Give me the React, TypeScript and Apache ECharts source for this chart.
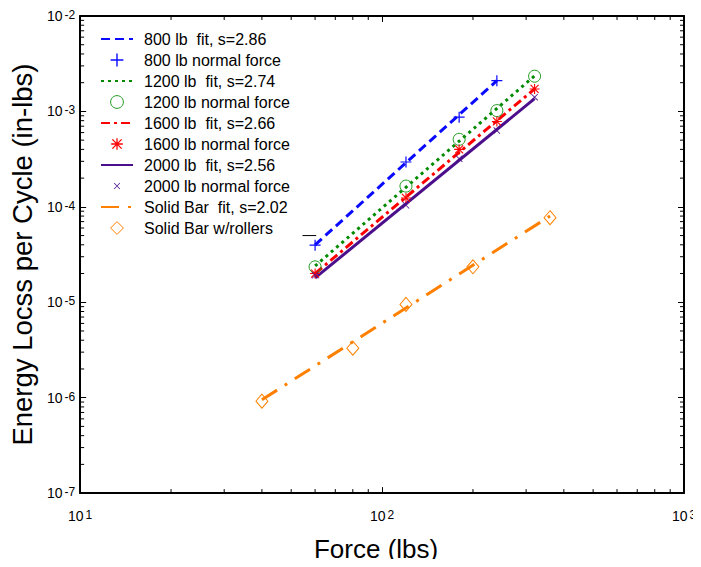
import React, { useEffect, useRef } from "react";
import * as echarts from "echarts";

// ---- data ----
const forces = [60, 120, 180, 240, 320];
const forces800 = [60, 120, 180, 240];
const loss800 = [3.96e-5, 2.95e-4, 8.7e-4, 2.1e-3];
const loss1200 = [2.35e-5, 1.65e-4, 5.1e-4, 1.02e-3, 2.34e-3];
const loss1600 = [2.0e-5, 1.24e-4, 4.0e-4, 7.85e-4, 1.72e-3];
const loss2000 = [1.92e-5, 1.04e-4, 3.2e-4, 6.3e-4, 1.41e-3];
const barForces = [40, 80, 120, 200, 360];
const barLoss = [9.2e-7, 3.3e-6, 9.5e-6, 2.35e-5, 7.7e-5];

// fit line end points
const fit800X = [60, 240];
const fit800Y = [4.0e-5, 2.1e-3];
const fitX = [60, 320];
const fit1200Y = [2.4e-5, 2.36e-3];
const fit1600Y = [2.0e-5, 1.72e-3];
const fit2000Y = [1.8e-5, 1.36e-3];
const fitBarX = [40, 360];
const fitBarY = [9.5e-7, 8.0e-5];
const strayX = [54.5, 60.5];
const strayY = [5e-5, 5e-5];

const names = [
  "800 lb  fit, s=2.86",
  "800 lb normal force",
  "1200 lb  fit, s=2.74",
  "1200 lb normal force",
  "1600 lb  fit, s=2.66",
  "1600 lb normal force",
  "2000 lb  fit, s=2.56",
  "2000 lb normal force",
  "Solid Bar  fit, s=2.02",
  "Solid Bar w/rollers",
];

// axis ranges and tick multipliers
const xMin = 10;
const xMax = 1000;
const yMin = 1e-7;
const yMax = 1e-2;
const minorMult = [2, 3, 4, 5, 6, 7, 8, 9];
const xDecades = [10, 100];
const yDecades = [1e-7, 1e-6, 1e-5, 1e-4, 1e-3];

const FONT = "Liberation Sans, Arial, sans-serif";
const BLUE = "#0a0aff";
const GREEN = "#008a00";
const GREEN_M = "#1f9a1f";
const RED = "#ff0000";
const PURPLE = "#4b0f8c";
const ORANGE = "#ff8000";

const PLUS = "path://M0,4.45H10V5.55H0Z M4.45,0H5.55V10H4.45Z";
const STAR =
  "path://M-0.5,-0.5L-0.5,-0.5Z M10.5,10.5L10.5,10.5Z M0,4.45H10V5.55H0Z M4.45,0H5.55V10H4.45Z M0.6,1.4L1.4,0.6L9.4,8.6L8.6,9.4Z M8.6,0.6L9.4,1.4L1.4,9.4L0.6,8.6Z";
// cross with invisible padding so that the legend icon stays small
const CROSS =
  "path://M-5,-5L-5,-5Z M15,15L15,15Z M0,0.8L0.8,0L10,9.2L9.2,10Z M9.2,0L10,0.8L0.8,10L0,9.2Z";

const zip = (xs: number[], ys: number[]) => xs.map((x, i) => [x, ys[i]]);

const labelFmt = (v: number) => {
  const e = Math.round(Math.log10(v));
  return `{b|10}{s|${e}}`;
};
const rich = {
  b: { fontSize: 14, lineHeight: 14, fontFamily: FONT, color: "#000", verticalAlign: "bottom" },
  s: { fontSize: 12, lineHeight: 12, fontFamily: FONT, color: "#000", verticalAlign: "top", padding: [0, 0, 10, 2] },
};

export default function App() {
  const ref = useRef<HTMLDivElement>(null);
  useEffect(() => {
    if (!ref.current) return;
    const chart = echarts.init(ref.current, null, { renderer: "svg" });

    const xMinorVals: number[] = [];
    xDecades.forEach((d) => minorMult.forEach((m) => xMinorVals.push(d * m)));
    const yMinorVals: number[] = [];
    yDecades.forEach((d) => minorMult.forEach((m) => yMinorVals.push(d * m)));

    const fitLine = (name: string, data: number[][], color: string, type: any, width = 3) => ({
      name,
      type: "line",
      data,
      symbol: "none",
      lineStyle: { color, width, type },
      itemStyle: { color, opacity: 0 },
      z: 3,
    });
    const markers = (name: string, data: number[][], symbol: string, size: any, color: string, hollow: boolean) => ({
      name,
      type: "line",
      data,
      symbol,
      symbolSize: size,
      showSymbol: true,
      lineStyle: { width: 0, opacity: 0, color },
      itemStyle: hollow
        ? { color: "rgba(0,0,0,0)", borderColor: color, borderWidth: 1 }
        : { color, borderWidth: 0 },
      z: 4,
    });

    const axisLabel = (margin: number) => ({
      formatter: labelFmt,
      rich,
      margin,
      fontSize: 14,
      fontFamily: FONT,
      color: "#000",
    });

    const option: any = {
      animation: false,
      backgroundColor: "#fff",
      grid: { left: 75, right: 17, top: 16, bottom: 72 },
      legend: {
        orient: "vertical",
        left: 100,
        top: 31,
        padding: 0,
        itemWidth: 32,
        itemHeight: 16,
        itemGap: 5,
        textStyle: { fontSize: 16, fontFamily: FONT, color: "#000", padding: [0, 0, 0, 6] },
        data: names.map((n, i) => ({
          name: n,
          itemStyle: { borderWidth: i === 3 || i === 9 ? 1 : 0 },
        })),
      },
      xAxis: [
        {
          type: "log",
          min: xMin,
          max: xMax,
          logBase: 10,
          name: "Force (lbs)",
          nameLocation: "middle",
          nameGap: 40,
          nameTextStyle: { fontSize: 26, fontFamily: FONT, color: "#000", padding: [0, 12, 0, 0] },
          axisLine: { lineStyle: { color: "#000", width: 2 } },
          axisTick: { inside: true, length: 6, lineStyle: { color: "#000" } },
          axisLabel: axisLabel(16),
          splitLine: { show: false },
        },
        {
          type: "log",
          min: xMin,
          max: xMax,
          position: "top",
          axisLine: { lineStyle: { color: "#000", width: 2 } },
          axisTick: { inside: true, length: 6, lineStyle: { color: "#000" } },
          axisLabel: { show: false },
          splitLine: { show: false },
        },
      ],
      yAxis: [
        {
          type: "log",
          min: yMin,
          max: yMax,
          name: "Energy Locss per Cycle (in-lbs)",
          nameLocation: "middle",
          nameGap: 36,
          nameTextStyle: { fontSize: 27.5, fontFamily: FONT, color: "#000" },
          axisLine: { lineStyle: { color: "#000", width: 2 } },
          axisTick: { inside: true, length: 6, lineStyle: { color: "#000" } },
          axisLabel: axisLabel(5),
          splitLine: { show: false },
        },
        {
          type: "log",
          min: yMin,
          max: yMax,
          position: "right",
          axisLine: { lineStyle: { color: "#000", width: 2 } },
          axisTick: { inside: true, length: 6, lineStyle: { color: "#000" } },
          axisLabel: { show: false },
          splitLine: { show: false },
        },
      ],
      series: [
        fitLine(names[0], zip(fit800X, fit800Y), BLUE, [9, 5]),
        markers(names[1], zip(forces800, loss800), PLUS, 11, BLUE, false),
        fitLine(names[2], zip(fitX, fit1200Y), GREEN, [3, 4]),
        markers(names[3], zip(forces, loss1200), "circle", 12, GREEN_M, true),
        fitLine(names[4], zip(fitX, fit1600Y), RED, [9, 4, 3, 4]),
        markers(names[5], zip(forces, loss1600), STAR, 11, RED, false),
        fitLine(names[6], zip(fitX, fit2000Y), PURPLE, "solid"),
        markers(names[7], zip(forces, loss2000), CROSS, 14, PURPLE, false),
        fitLine(names[8], zip(fitBarX, fitBarY), ORANGE, [18, 9, 3, 9]),
        markers(names[9], zip(barForces, barLoss), "diamond", [12, 14], ORANGE, true),
        {
          name: "stray",
          type: "line",
          data: zip(strayX, strayY),
          symbol: "none",
          lineStyle: { color: "#000", width: 1 },
          z: 3,
        },
        {
          name: "xminor",
          type: "custom",
          silent: true,
          data: xMinorVals.map((v) => [v, yMin]),
          renderItem: (_p: any, api: any) => {
            const v = api.value(0);
            const b = api.coord([v, yMin]);
            const t = api.coord([v, yMax]);
            return {
              type: "group",
              children: [
                { type: "line", shape: { x1: b[0], y1: b[1], x2: b[0], y2: b[1] - 4 }, style: { stroke: "#000", lineWidth: 1 } },
                { type: "line", shape: { x1: t[0], y1: t[1], x2: t[0], y2: t[1] + 4 }, style: { stroke: "#000", lineWidth: 1 } },
              ],
            };
          },
        },
        {
          name: "yminor",
          type: "custom",
          silent: true,
          data: yMinorVals.map((v) => [xMin, v]),
          renderItem: (_p: any, api: any) => {
            const v = api.value(1);
            const l = api.coord([xMin, v]);
            const r = api.coord([xMax, v]);
            return {
              type: "group",
              children: [
                { type: "line", shape: { x1: l[0], y1: l[1], x2: l[0] + 4, y2: l[1] }, style: { stroke: "#000", lineWidth: 1 } },
                { type: "line", shape: { x1: r[0], y1: r[1], x2: r[0] - 4, y2: r[1] }, style: { stroke: "#000", lineWidth: 1 } },
              ],
            };
          },
        },
      ],
    };
    chart.setOption(option);
    return () => chart.dispose();
  }, []);
  return <div ref={ref} style={{ width: 701, height: 567, margin: -8 }} />;
}
